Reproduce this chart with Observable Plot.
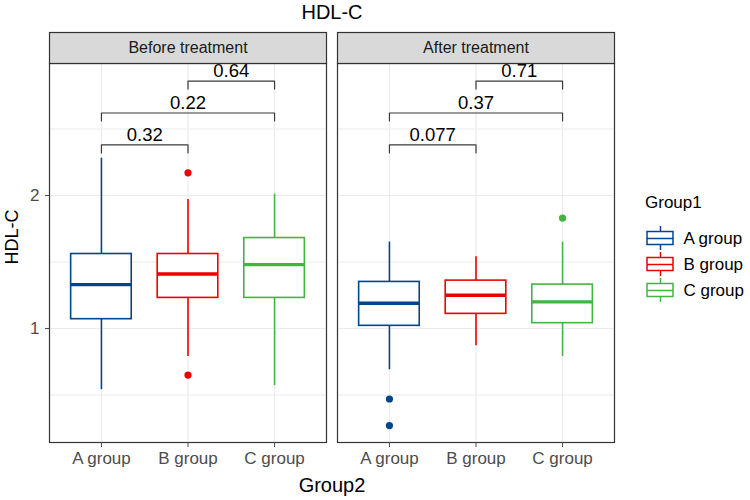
<!DOCTYPE html>
<html><head><meta charset="utf-8">
<script src="https://cdn.jsdelivr.net/npm/d3@7"></script>
<script src="https://cdn.jsdelivr.net/npm/@observablehq/plot@0.6"></script>
<style>
body{margin:0;background:#fff;font-family:"Liberation Sans",Arial,sans-serif;}
#wrap{position:relative;width:750px;height:500px;overflow:hidden;background:#fff;}
#title{position:absolute;left:332px;top:0;transform:translateX(-50%);font-size:20px;line-height:24px;color:#000;white-space:nowrap;}
#chart{position:absolute;left:0;top:26px;}
#ytitle{position:absolute;left:12px;top:237px;transform:translate(-50%,-50%) rotate(-90deg);font-size:18px;color:#000;white-space:nowrap;}
#xtitle{position:absolute;left:332px;top:485px;transform:translate(-50%,-50%);font-size:20px;color:#000;white-space:nowrap;}
#legtitle{position:absolute;left:645px;top:191px;font-size:17px;line-height:24px;color:#000;}
#legend{position:absolute;left:646px;top:216px;}
</style></head>
<body>
<div id="wrap">
  <div id="title">HDL-C</div>
  <div id="chart"></div>
  <div id="ytitle">HDL-C</div>
  <div id="xtitle">Group2</div>
  <div id="legtitle">Group1</div>
  <div id="legend"></div>
</div>
<script>
// ---- data ----
const phases = ["Before treatment", "After treatment"];
const groups = ["A group", "B group", "C group"];
const colors = ["#00468B", "#ED0000", "#42B540"];

// box statistics (group order A, B, C)
const beforeLow  = [0.54, 0.79, 0.57];
const beforeQ1   = [1.07, 1.23, 1.23];
const beforeMed  = [1.33, 1.41, 1.48];
const beforeQ3   = [1.56, 1.56, 1.68];
const beforeHigh = [2.28, 1.97, 2.01];

const afterLow  = [0.69, 0.87, 0.79];
const afterQ1   = [1.02, 1.11, 1.04];
const afterMed  = [1.19, 1.25, 1.20];
const afterQ3   = [1.35, 1.36, 1.33];
const afterHigh = [1.65, 1.54, 1.65];

// outliers
const outlierPhase = ["Before treatment", "Before treatment", "After treatment", "After treatment", "After treatment"];
const outlierGroup = ["B group", "B group", "A group", "A group", "C group"];
const outlierValue = [2.17, 0.65, 0.47, 0.27, 1.83];

// pairwise comparisons
const pairFrom  = ["A group", "A group", "B group"];
const pairTo    = ["B group", "C group", "C group"];
const pairLevel = [2.38, 2.62, 2.86];
const pBefore   = ["0.32", "0.22", "0.64"];
const pAfter    = ["0.077", "0.37", "0.71"];

const yTicks = [1, 2];
const yTickLabels = ["1", "2"];
const yGrid = [0.5, 1, 1.5, 2, 2.5];

// ---- build tables ----
const pos = g => groups.indexOf(g) + 1;
const HALF = 0.35;   // half box width in category units
const TICK = 0.06;   // bracket leg length

const stats = {
  "Before treatment": [beforeLow, beforeQ1, beforeMed, beforeQ3, beforeHigh],
  "After treatment": [afterLow, afterQ1, afterMed, afterQ3, afterHigh]
};
const boxes = phases.flatMap(ph => groups.map((g, i) => {
  const [lo, q1, md, q3, hi] = stats[ph];
  return {phase: ph, group: g, pos: i + 1, low: lo[i], q1: q1[i], med: md[i], q3: q3[i], high: hi[i]};
}));
const outliers = outlierValue.map((v, i) => ({phase: outlierPhase[i], group: outlierGroup[i], value: v}));
const pvals = {"Before treatment": pBefore, "After treatment": pAfter};
const brackets = phases.flatMap(ph => pairFrom.map((f, i) => ({
  id: ph + i, phase: ph, from: pos(f), to: pos(pairTo[i]), level: pairLevel[i], p: pvals[ph][i]
})));
const bracketPts = brackets.flatMap(b => [
  {id: b.id, phase: b.phase, x: b.from, y: b.level - TICK},
  {id: b.id, phase: b.phase, x: b.from, y: b.level},
  {id: b.id, phase: b.phase, x: b.to, y: b.level},
  {id: b.id, phase: b.phase, x: b.to, y: b.level - TICK}
]);

const font = "'Liberation Sans', Arial, sans-serif";
const gridColor = "#EBEBEB";
const border = "#333333";

const chart = Plot.plot({
  width: 750,
  height: 474,
  marginTop: 37,
  marginBottom: 58,
  marginLeft: 49,
  marginRight: 135,
  style: {fontFamily: font, background: "transparent"},
  fx: {domain: phases, paddingInner: 0.038, paddingOuter: 0, axis: null, label: null},
  x: {domain: [0.4, 3.6], axis: null},
  y: {domain: [0.143, 2.992], axis: null},
  color: {domain: groups, range: colors},
  marks: [
    Plot.gridY({ticks: yGrid, stroke: gridColor, strokeOpacity: 1, strokeWidth: 1.1}),
    Plot.gridX({ticks: [1, 2, 3], stroke: gridColor, strokeOpacity: 1, strokeWidth: 1.1}),
    Plot.ruleX(boxes, {fx: "phase", x: "pos", y1: "q3", y2: "high", stroke: "group", strokeWidth: 1.6}),
    Plot.ruleX(boxes, {fx: "phase", x: "pos", y1: "low", y2: "q1", stroke: "group", strokeWidth: 1.6}),
    Plot.rect(boxes, {fx: "phase", x1: d => d.pos - HALF, x2: d => d.pos + HALF, y1: "q1", y2: "q3",
      fill: "white", stroke: "group", strokeWidth: 1.6}),
    Plot.ruleY(boxes, {fx: "phase", y: "med", x1: d => d.pos - HALF, x2: d => d.pos + HALF, stroke: "group", strokeWidth: 3.4}),
    Plot.dot(outliers, {fx: "phase", x: d => pos(d.group), y: "value", fill: "group", r: 3.6, stroke: "none"}),
    Plot.line(bracketPts, {fx: "phase", x: "x", y: "y", z: "id", stroke: "#3a3a3a", strokeWidth: 1.2, curve: "linear"}),
    Plot.text(brackets, {fx: "phase", x: d => (d.from + d.to) / 2, y: "level", text: "p", dy: -10,
      fontSize: 18.5, fill: "#000", clip: true}),
    Plot.frame({stroke: border, strokeWidth: 1.2}),
    Plot.frame({fill: "#D9D9D9", stroke: border, strokeWidth: 1.2, insetTop: -31, insetBottom: 379}),
    Plot.text(phases, {fx: d => d, text: d => d, frameAnchor: "top", lineAnchor: "middle", dy: -15.5,
      fontSize: 16, fill: "#1A1A1A"}),
    Plot.axisX({ticks: [1, 2, 3], tickFormat: i => groups[i - 1], tickSize: 5, tickPadding: 4,
      fontSize: 17, color: "#4D4D4D", label: null}),
    Plot.axisY({ticks: yTicks, tickFormat: v => yTickLabels[yTicks.indexOf(v)], tickSize: 4, tickPadding: 6,
      fontSize: 17, color: "#4D4D4D", label: null})
  ]
});
document.getElementById("chart").appendChild(chart);

const legend = Plot.plot({
  width: 104,
  height: 96,
  marginTop: 9,
  marginBottom: 9,
  marginLeft: 1,
  marginRight: 77,
  style: {fontFamily: font, background: "transparent"},
  x: {domain: [0, 1], axis: null},
  y: {domain: groups, type: "band", paddingInner: 0.08, paddingOuter: 0.04, axis: null},
  color: {domain: groups, range: colors},
  marks: [
    Plot.tickX(groups, {x: 0.5, y: d => d, stroke: d => d, strokeWidth: 1.5}),
    Plot.barX(groups, {x1: 0, x2: 1, y: d => d, fill: "white", stroke: d => d, strokeWidth: 1.5,
      insetTop: 5.5, insetBottom: 5.5}),
    Plot.ruleY(groups, {y: d => d, x1: 0, x2: 1, stroke: d => d, strokeWidth: 1.5}),
    Plot.text(groups, {x: 1, y: d => d, text: d => d, dx: 10, textAnchor: "start", fontSize: 17, fill: "#000"})
  ]
});
document.getElementById("legend").appendChild(legend);
</script>
</body></html>
